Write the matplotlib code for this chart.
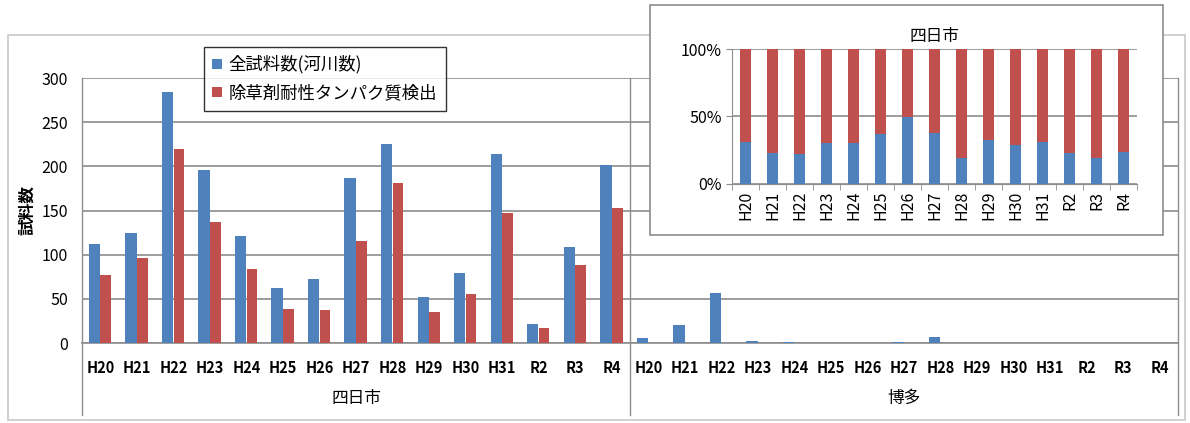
import matplotlib.pyplot as plt
from matplotlib.patches import Rectangle
import numpy as np

plt.rcParams['font.family'] = ['Noto Sans CJK JP', 'DejaVu Sans']

years = ['H20', 'H21', 'H22', 'H23', 'H24', 'H25', 'H26', 'H27',
         'H28', 'H29', 'H30', 'H31', 'R2', 'R3', 'R4']
groups = ['四日市', '博多']

# 四日市
yokkaichi_total = [112, 125, 284, 196, 121, 62, 73, 187, 225, 52, 79, 214, 22, 109, 201]
yokkaichi_detect = [77, 96, 220, 137, 84, 39, 37, 116, 181, 35, 56, 147, 17, 88, 153]
# 博多
hakata_total = [6, 20, 57, 2, 1, 0, 0, 1, 7, 0, 0, 0, 0, 0, 0]
hakata_detect = [0, 0, 0, 0, 0, 0, 0, 0, 0, 0, 0, 0, 0, 0, 0]

blue = '#4f81bd'
red = '#c0504d'
grid = '#8c8c8c'

fig = plt.figure(figsize=(11.9, 4.23), dpi=100)

# outer chart frame
fig.patches.append(Rectangle((8 / 1190, 1 - 420 / 423), 1177 / 1190, 385 / 423,
                             transform=fig.transFigure, fill=False,
                             edgecolor='#c8c8c8', lw=1.2, zorder=0))

ax = fig.add_axes([82 / 1190, 1 - 343 / 423, 1096 / 1190, 265 / 423])
total = yokkaichi_total + hakata_total
detect = yokkaichi_detect + hakata_detect
x = np.arange(len(total))
ax.bar(x - 0.16, total, width=0.31, color=blue, label='全試料数(河川数)', zorder=3)
ax.bar(x + 0.15, detect, width=0.29, color=red, label='除草剤耐性タンパク質検出', zorder=3)

ax.set_xlim(-0.5, 29.5)
ax.set_ylim(0, 300)
ax.set_yticks(range(0, 301, 50))
ax.yaxis.grid(True, color=grid, lw=1.2)
ax.set_axisbelow(True)
for s in ['top', 'right', 'left']:
    ax.spines[s].set_visible(False)
ax.spines['bottom'].set_color(grid)
ax.spines['bottom'].set_linewidth(1.2)
ax.tick_params(axis='y', length=0, labelsize=11.5, pad=10)
ax.tick_params(axis='x', length=0, pad=12)
ax.set_xticks(x)
ax.set_xticklabels(years * 2, fontsize=10.5, fontweight='bold')
ax.set_ylabel('試料数', fontsize=12, fontweight='bold', labelpad=4)

# group separators and labels
trans = ax.get_xaxis_transform()
for b in [-0.5, 14.5, 29.5]:
    ax.plot([b, b], [-0.272, 1.0], transform=trans, color=grid, lw=1, clip_on=False)
for i, g in enumerate(groups):
    ax.text(7 + 15 * i, -0.21, g, transform=trans, ha='center', va='center',
            fontsize=12)

ax.legend(loc='upper left', bbox_to_anchor=(195 / 1190, 1 - 38 / 423),
          bbox_transform=fig.transFigure, fontsize=12.5, frameon=True,
          fancybox=False, edgecolor='black', handlelength=0.55, handleheight=0.55,
          handletextpad=0.4, borderpad=0.5, labelspacing=0.6)

# inset: share of 四日市 samples
fig.patches.append(Rectangle((650 / 1190, 1 - 235 / 423), 513 / 1190, 230 / 423,
                             transform=fig.transFigure, facecolor='white',
                             edgecolor='#8c8c8c', lw=1.2, zorder=1))
ins = fig.add_axes([732 / 1190, 1 - 184 / 423, 405 / 1190, 135 / 423], zorder=2)
tot = np.array(yokkaichi_total)
det = np.array(yokkaichi_detect)
xi = np.arange(len(years))
ins.bar(xi, (tot - det) / tot, width=0.38, color=blue, zorder=3)
ins.bar(xi, det / tot, bottom=(tot - det) / tot, width=0.38, color=red, zorder=3)
ins.set_xlim(-0.5, 14.5)
ins.set_ylim(0, 1)
ins.set_yticks([0, 0.5, 1])
ins.set_yticklabels(['0%', '50%', '100%'])
ins.yaxis.grid(True, color=grid, lw=1.2)
ins.set_axisbelow(True)
for s in ['top', 'right']:
    ins.spines[s].set_visible(False)
ins.spines['left'].set_color(grid)
ins.spines['bottom'].set_color(grid)
ins.set_xticks(xi)
ins.set_xticklabels(years, rotation=90, fontsize=11.5)
ins.set_xticks(np.arange(-0.5, 15, 1), minor=True)
ins.tick_params(axis='x', which='major', length=0, pad=5)
ins.tick_params(axis='x', which='minor', length=4, color=grid)
ins.tick_params(axis='y', length=4, color=grid, labelsize=11.5)
ins.set_title('四日市', fontsize=12, pad=6)

fig.savefig('out.png', dpi=100)
